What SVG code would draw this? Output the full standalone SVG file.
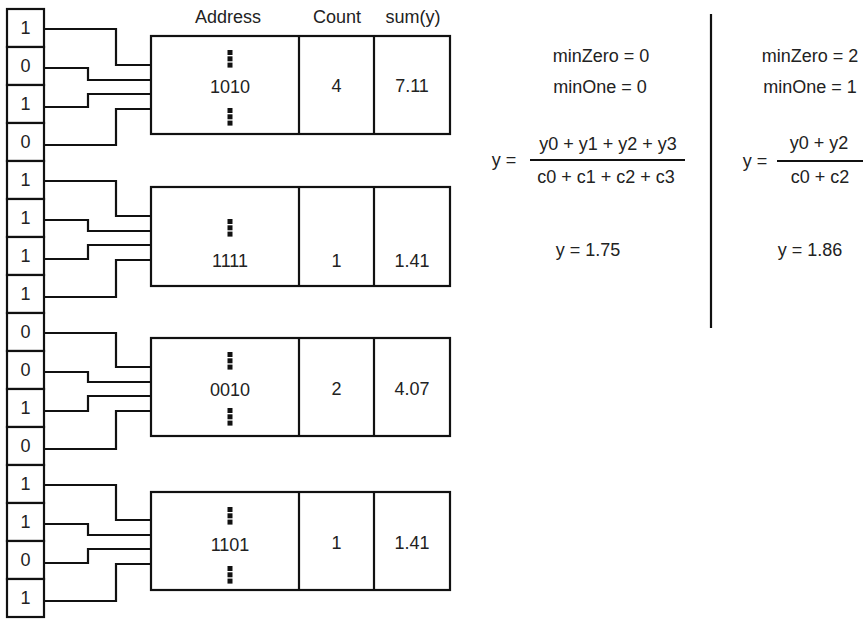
<svg xmlns="http://www.w3.org/2000/svg" width="867" height="624" viewBox="0 0 867 624">
<style>
text{font-family:"Liberation Sans",Arial,sans-serif;font-size:18px;fill:#222;text-anchor:middle}
.b{fill:#fff;stroke:#111;stroke-width:2.2}
.w{fill:none;stroke:#111;stroke-width:2.2}
.d{fill:#111}
</style>
<defs>
<g id="dots"><rect x="-2.5" y="0" width="5" height="5" class="d"/><rect x="-2.5" y="6.3" width="5" height="5" class="d"/><rect x="-2.5" y="12.6" width="5" height="5" class="d"/></g>
</defs>
<rect width="867" height="624" fill="#fff"/>
<g id="bits">
<rect class="b" x="7" y="9" width="37" height="38"/><text x="25.5" y="34">1</text>
<rect class="b" x="7" y="47" width="37" height="38"/><text x="25.5" y="72">0</text>
<rect class="b" x="7" y="85" width="37" height="38"/><text x="25.5" y="110">1</text>
<rect class="b" x="7" y="123" width="37" height="38"/><text x="25.5" y="148">0</text>
<rect class="b" x="7" y="161" width="37" height="38"/><text x="25.5" y="186">1</text>
<rect class="b" x="7" y="199" width="37" height="38"/><text x="25.5" y="224">1</text>
<rect class="b" x="7" y="237" width="37" height="38"/><text x="25.5" y="262">1</text>
<rect class="b" x="7" y="275" width="37" height="38"/><text x="25.5" y="300">1</text>
<rect class="b" x="7" y="313" width="37" height="38"/><text x="25.5" y="338">0</text>
<rect class="b" x="7" y="351" width="37" height="38"/><text x="25.5" y="376">0</text>
<rect class="b" x="7" y="389" width="37" height="38"/><text x="25.5" y="414">1</text>
<rect class="b" x="7" y="427" width="37" height="38"/><text x="25.5" y="452">0</text>
<rect class="b" x="7" y="465" width="37" height="38"/><text x="25.5" y="490">1</text>
<rect class="b" x="7" y="503" width="37" height="38"/><text x="25.5" y="528">1</text>
<rect class="b" x="7" y="541" width="37" height="38"/><text x="25.5" y="566">0</text>
<rect class="b" x="7" y="579" width="37" height="38"/><text x="25.5" y="604">1</text>
</g>
<g id="connectors">
<path class="w" d="M44 29H116V65H151M44 68H88V80H151M44 107H88V94H151M44 145H116V109H151"/>
<path class="w" d="M44 181H116V216H151M44 220H88V231H151M44 259H88V245H151M44 297H116V260H151"/>
<path class="w" d="M44 333H116V367H151M44 372H88V382H151M44 411H88V396H151M44 449H116V411H151"/>
<path class="w" d="M44 485H116V520H151M44 524H88V535H151M44 563H88V549H151M44 601H116V564H151"/>
</g>
<g id="headers">
<text x="228" y="23">Address</text>
<text x="337" y="23">Count</text>
<text x="413" y="23">sum(y)</text>
</g>
<g id="row-1010">
<rect class="b" x="151" y="36" width="299" height="98"/>
<path class="w" d="M299 36V134M374 36V134"/>
<use href="#dots" x="230" y="50"/>
<text x="230" y="93">1010</text>
<use href="#dots" x="230" y="108"/>
<text x="336.5" y="92">4</text>
<text x="412" y="92">7.11</text>
</g>
<g id="row-1111">
<rect class="b" x="151" y="187" width="299" height="99"/>
<path class="w" d="M299 187V286M374 187V286"/>
<use href="#dots" x="230" y="219"/>
<text x="230" y="267">1111</text>
<text x="336.5" y="267">1</text>
<text x="412" y="267">1.41</text>
</g>
<g id="row-0010">
<rect class="b" x="151" y="338" width="299" height="98"/>
<path class="w" d="M299 338V436M374 338V436"/>
<use href="#dots" x="230" y="352"/>
<text x="230" y="396">0010</text>
<use href="#dots" x="230" y="408"/>
<text x="336.5" y="395">2</text>
<text x="412" y="395">4.07</text>
</g>
<g id="row-1101">
<rect class="b" x="151" y="492" width="299" height="98"/>
<path class="w" d="M299 492V590M374 492V590"/>
<use href="#dots" x="230" y="507"/>
<text x="230" y="551">1101</text>
<use href="#dots" x="230" y="566"/>
<text x="336.5" y="549">1</text>
<text x="412" y="549">1.41</text>
</g>
<g id="left-calc">
<text x="601" y="62">minZero = 0</text>
<text x="600" y="93">minOne = 0</text>
<text x="504" y="166">y =</text>
<text x="608" y="150">y0 + y1 + y2 + y3</text>
<path class="w" d="M530 160H685"/>
<text x="606" y="183">c0 + c1 + c2 + c3</text>
<text x="588" y="256">y = 1.75</text>
</g>
<path id="divider" class="w" stroke-width="2.5" d="M711 14V328"/>
<g id="right-calc">
<text x="810" y="62">minZero = 2</text>
<text x="810" y="93">minOne = 1</text>
<text x="755" y="167">y =</text>
<text x="819" y="149">y0 + y2</text>
<path class="w" d="M777 161H863"/>
<text x="820" y="183">c0 + c2</text>
<text x="810" y="256">y = 1.86</text>
</g>
</svg>
